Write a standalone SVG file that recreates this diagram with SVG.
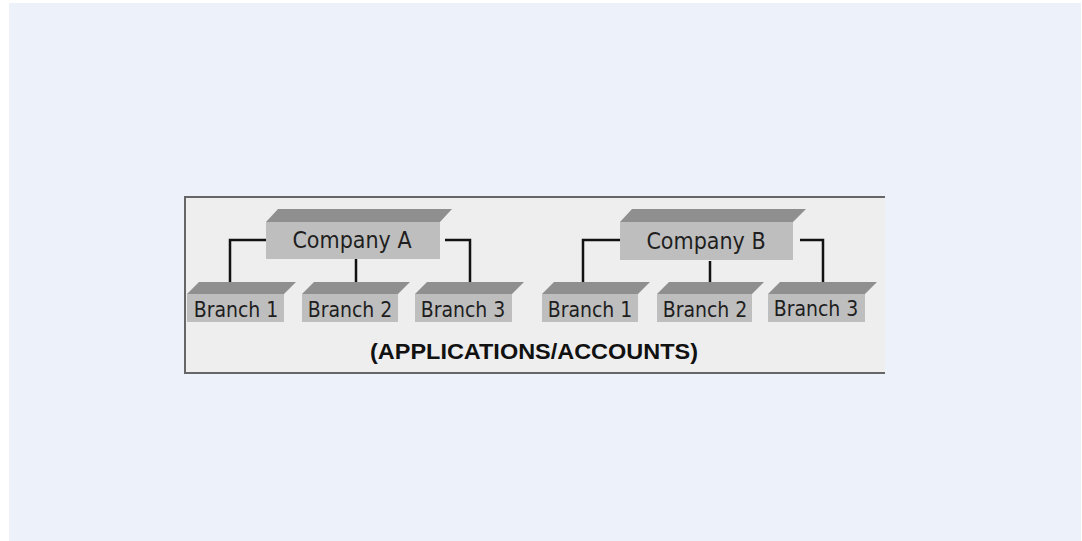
<svg xmlns="http://www.w3.org/2000/svg" width="1082" height="541" viewBox="0 0 1082 541">
  <style>
    .top { fill: #8f8f8f; }
    .front { fill: #bebebe; }
    .lbl { font-family: "DejaVu Sans Condensed", "DejaVu Sans", sans-serif; font-stretch: condensed; fill: #1e1e1e; text-anchor: middle; }
    .co { font-size: 23px; }
    .br { font-size: 21px; }
    .conn { fill: none; stroke: #111; stroke-width: 2.5; }
  </style>
  <rect x="0" y="0" width="1082" height="541" fill="#ffffff"/>
  <rect x="9" y="3" width="1072" height="538" fill="#edf1f9"/>
  <g id="panel">
    <rect x="185" y="197" width="700" height="176" fill="#eeeeee"/>
    <path d="M885,197 H185 V373 H885" fill="none" stroke="#666" stroke-width="2"/>
  </g>
  <g id="connectors">
    <path class="conn" d="M266,240 H230 V288"/>
    <path class="conn" d="M356,259 V288"/>
    <path class="conn" d="M445,240 H470 V288"/>
    <path class="conn" d="M620,240 H583 V288"/>
    <path class="conn" d="M710,261 V288"/>
    <path class="conn" d="M800,240 H823 V288"/>
  </g>
  <g id="companyA">
    <polygon class="top" points="266,222 278,209 452,209 440,222"/>
    <rect class="front" x="266" y="222" width="174" height="37"/>
    <text class="lbl co" x="352" y="248">Company A</text>
  </g>
  <g id="companyB">
    <polygon class="top" points="620,222 632,209 806,209 793,222"/>
    <rect class="front" x="620" y="222" width="173" height="38"/>
    <text class="lbl co" x="706" y="249">Company B</text>
  </g>
  <g id="a-branch1">
    <polygon class="top" points="187,294 199,282 296,282 284,294"/>
    <rect class="front" x="187" y="294" width="97" height="28"/>
    <text class="lbl br" x="236" y="317">Branch 1</text>
  </g>
  <g id="a-branch2">
    <polygon class="top" points="302,294 314,282 410,282 398,294"/>
    <rect class="front" x="302" y="294" width="96" height="28"/>
    <text class="lbl br" x="350" y="317">Branch 2</text>
  </g>
  <g id="a-branch3">
    <polygon class="top" points="415,294 427,282 524,282 512,294"/>
    <rect class="front" x="415" y="294" width="97" height="28"/>
    <text class="lbl br" x="463" y="317">Branch 3</text>
  </g>
  <g id="b-branch1">
    <polygon class="top" points="542,294 554,282 650,282 638,294"/>
    <rect class="front" x="542" y="294" width="96" height="28"/>
    <text class="lbl br" x="590" y="317">Branch 1</text>
  </g>
  <g id="b-branch2">
    <polygon class="top" points="657,294 669,282 764,282 752,294"/>
    <rect class="front" x="657" y="294" width="95" height="28"/>
    <text class="lbl br" x="705" y="317">Branch 2</text>
  </g>
  <g id="b-branch3">
    <polygon class="top" points="768,294 780,282 877,282 865,294"/>
    <rect class="front" x="768" y="294" width="97" height="28"/>
    <text class="lbl br" x="816" y="316">Branch 3</text>
  </g>
  <text x="534" y="359" font-family="Liberation Sans, Arial, sans-serif" font-weight="bold" font-size="22" fill="#111" text-anchor="middle" textLength="328" lengthAdjust="spacingAndGlyphs">(APPLICATIONS/ACCOUNTS)</text>
</svg>
